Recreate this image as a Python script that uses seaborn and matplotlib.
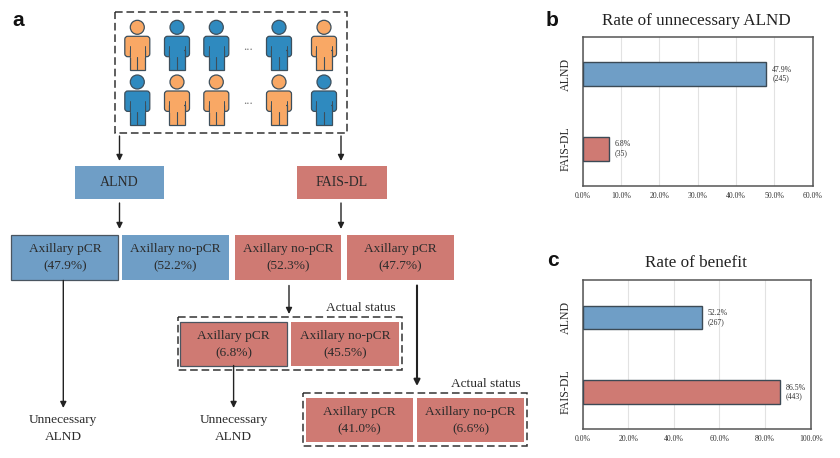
import matplotlib
matplotlib.use("Agg")
import matplotlib.pyplot as plt
from matplotlib.patches import Rectangle, Circle, FancyBboxPatch
import seaborn as sns
import pandas as pd

sns.set_theme(style="white")
plt.rcParams['font.family'] = ['Liberation Serif', 'DejaVu Serif']

W, H = 840, 458
BLUE, RED = "#6F9EC6", "#CF7A73"
ORANGE, PBLUE = "#F9A865", "#2F8ABF"
TXT = "#2b2b2b"

groups = ["ALND", "FAIS-DL"]
b_values = [47.9, 6.8]
b_counts = [245, 35]
b_ticks = [0, 10, 20, 30, 40, 50, 60]
c_values = [52.2, 86.5]
c_counts = [267, 443]
c_ticks = [0, 20, 40, 60, 80, 100]

row1_boxes = [
    ("Axillary pCR", "47.9%", BLUE, 11.4, 118.3, True),
    ("Axillary no-pCR", "52.2%", BLUE, 122, 228.7, False),
    ("Axillary no-pCR", "52.3%", RED, 235, 341, False),
    ("Axillary pCR", "47.7%", RED, 347, 453.6, False),
]
status1 = [("Axillary pCR", "6.8%", 180.3, 287.2, True),
           ("Axillary no-pCR", "45.5%", 291.4, 399, False)]
status2 = [("Axillary pCR", "41.0%", 305.9, 413.1, False),
           ("Axillary no-pCR", "6.6%", 417.3, 523.9, False)]

fig = plt.figure(figsize=(W / 100, H / 100), dpi=100, facecolor="white")
ov = fig.add_axes([0, 0, 1, 1])
ov.set_xlim(0, W)
ov.set_ylim(H, 0)
ov.axis("off")


def person(cx, top, color):
    edge = "#3d4f5c"
    ov.add_patch(Circle((cx, top + 7), 7, fc=color, ec=edge, lw=0.9))
    ov.add_patch(FancyBboxPatch((cx - 12.5, top + 16), 25, 20.4, boxstyle="round,pad=0,rounding_size=3",
                                fc=color, ec=edge, lw=0.9, mutation_aspect=1))
    ov.add_patch(Rectangle((cx - 7.8, top + 30), 15.6, 19.5, fc=color, ec=edge, lw=0.9))
    ov.add_patch(Rectangle((cx - 7.3, top + 28), 14.6, 10, fc=color, ec="none"))
    ov.plot([cx - 7.8, cx - 7.8], [top + 26, top + 37], color=edge, lw=0.7)
    ov.plot([cx + 7.8, cx + 7.8], [top + 26, top + 37], color=edge, lw=0.7)
    ov.plot([cx, cx], [top + 37, top + 49.5], color=edge, lw=0.8)


xs = [137.3, 177, 216.3, 279, 324]
for cx, c in zip(xs, [ORANGE, PBLUE, PBLUE, PBLUE, ORANGE]):
    person(cx, 20.3, c)
for cx, c in zip(xs, [PBLUE, ORANGE, ORANGE, ORANGE, PBLUE]):
    person(cx, 75, c)
for y in (49.5, 104.5):
    ov.text(247.5, y, "...", ha="center", va="baseline", fontsize=9, color="#777777")


def dashed(x0, x1, y0, y1):
    ov.add_patch(Rectangle((x0, y0), x1 - x0, y1 - y0, fc="none", ec="#333333", lw=1.1,
                           ls=(0, (5, 2.5))))


def arrow(x, y0, y1, lw=1.0):
    ov.annotate("", xy=(x, y1), xytext=(x, y0),
                arrowprops=dict(arrowstyle="-|>", color="#222222", lw=lw, mutation_scale=9,
                                shrinkA=0, shrinkB=0))


def box(x0, x1, y0, y1, color, outlined=False):
    ov.add_patch(Rectangle((x0, y0), x1 - x0, y1 - y0, fc=color,
                           ec="#4a5560" if outlined else "none", lw=0.9))


def label(name, pct, x0, x1, y0, y1):
    cx = (x0 + x1) / 2
    mid = (y0 + y1) / 2
    ov.text(cx, mid - 8, name, ha="center", va="center", fontsize=9.6, color=TXT)
    ov.text(cx, mid + 9.5, f"({pct})", ha="center", va="center", fontsize=9.6, color=TXT)


dashed(114.7, 346.7, 11.7, 133.3)
arrow(119.5, 136, 161)
arrow(341, 136, 161)
box(74.7, 164.3, 165.7, 199.3, BLUE)
box(297, 387.3, 165.7, 199.3, RED)
ov.text(119.5, 182.5, groups[0], ha="center", va="center", fontsize=10, color=TXT)
ov.text(341.5, 182.5, groups[1], ha="center", va="center", fontsize=10, color=TXT)
arrow(119.5, 203, 229)
arrow(341, 203, 229)

for name, pct, col, x0, x1, o in row1_boxes:
    box(x0, x1, 235.4, 280.4, col, o)
    label(name, pct, x0, x1, 235.4, 279)

arrow(63.3, 280.4, 408)
arrow(289, 285.5, 314)
arrow(417, 285.5, 386, lw=1.5)
arrow(233.6, 365.5, 408)

dashed(177.5, 402.4, 316.7, 370.3)
for name, pct, x0, x1, o in status1:
    box(x0, x1, 321.5, 365.5, RED, o)
    label(name, pct, x0, x1, 321.5, 365.5)
dashed(302.8, 527.3, 392.8, 445.8)
for name, pct, x0, x1, o in status2:
    box(x0, x1, 397.7, 441.6, RED, o)
    label(name, pct, x0, x1, 397.7, 441.6)

ov.text(395.5, 308, "Actual status", ha="right", va="center", fontsize=9.6, color=TXT)
ov.text(520.8, 384.2, "Actual status", ha="right", va="center", fontsize=9.6, color=TXT)
for cx in (63.3, 233.6):
    ov.text(cx, 420.5, "Unnecessary", ha="center", va="center", fontsize=9.6, color=TXT)
    ov.text(cx, 436.8, "ALND", ha="center", va="center", fontsize=9.6, color=TXT)

for s, x, y in [("a", 18.5, 20), ("b", 552, 20), ("c", 552.5, 261)]:
    ov.text(x, y, s, ha="center", va="center", fontsize=15, fontweight="bold",
            family=["Liberation Sans"], color="#111111")


def panel(l, r, t, b, values, counts, ticks, title, bw, title_y):
    ax = fig.add_axes([l / W, 1 - b / H, (r - l) / W, (b - t) / H])
    df = pd.DataFrame({"group": groups, "value": values})
    sns.barplot(data=df, y="group", x="value", hue="group", palette=[BLUE, RED], legend=False,
                width=bw, edgecolor="#3c4a55", linewidth=1.0, saturation=1, ax=ax, zorder=3)
    ax.set_xlim(ticks[0], ticks[-1])
    ax.set_ylim(1.5, -0.5)
    ax.set_xticks(ticks)
    ax.set_xticklabels([f"{v:.1f}%" for v in ticks], fontsize=5.6, color="#333333")
    ax.set_xlabel("")
    ax.set_ylabel("")
    ax.set_yticks([0, 1])
    ax.set_yticklabels(groups, rotation=90, va="center", fontsize=8.6, color=TXT)
    ax.tick_params(axis="x", length=0, pad=4)
    ax.tick_params(axis="y", length=0, pad=7.5)
    ax.grid(axis="x", color="#e2e2e2", lw=0.8, zorder=0)
    ax.grid(axis="y", visible=False)
    for sp in ax.spines.values():
        sp.set_visible(True)
        sp.set_color("#555555")
        sp.set_linewidth(1.1)
    off = ticks[-1] * 0.027
    for i, (v, n) in enumerate(zip(values, counts)):
        ax.text(v + off, i, f"{v:.1f}%\n({n})", ha="left", va="center", fontsize=5.6,
                color="#333333", linespacing=1.15, zorder=4)
    ov.text((l + r) / 2 - 1, title_y, title, ha="center", va="center", fontsize=12.3, color="#222222")
    return ax


panel(582.5, 812.5, 36.7, 186.3, b_values, b_counts, b_ticks, "Rate of unnecessary ALND", 0.33, 21)
panel(582.5, 810.7, 280, 429.3, c_values, c_counts, c_ticks, "Rate of benefit", 0.31, 263)

fig.savefig("out.png", dpi=100, facecolor="white")
